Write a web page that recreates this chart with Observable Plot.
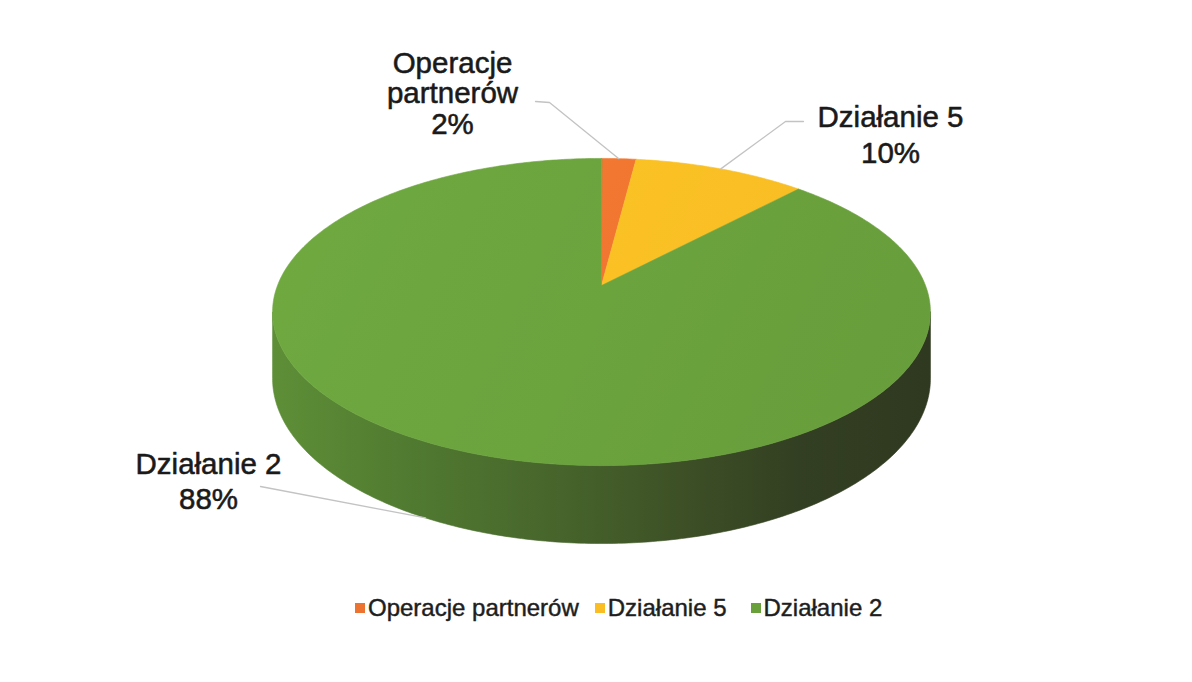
<!DOCTYPE html>
<html><head><meta charset="utf-8">
<script src="https://cdn.jsdelivr.net/npm/d3@7"></script>
<script src="https://cdn.jsdelivr.net/npm/@observablehq/plot@0.6"></script>
<style>
body{margin:0;background:#fff;font-family:"Liberation Sans",Arial,sans-serif;}
#chart{position:relative;width:1192px;height:682px;background:#fff;}
#legend{position:absolute;left:355px;top:596px;display:flex;align-items:center;font-size:24px;color:#1e1e1e;line-height:24px;white-space:nowrap;-webkit-text-stroke:0.45px #1e1e1e;}
.sw{width:10px;height:10px;display:inline-block;margin-right:3px;-webkit-text-stroke:0;}
</style></head><body><div id="chart"></div>
<script>
// ---- data ----
const categories = ["Operacje partnerów", "Działanie 5", "Działanie 2"];
const shares = [2, 10, 88];
const shareLabels = ["2%", "10%", "88%"];
const labelNames = ["Operacje\npartnerów", "Działanie 5", "Działanie 2"];
const colors = ["#ec7430", "#fabd24", "#69a03c"];

// ---- layout / style ----
const W = 1192, H = 590;
const geo = {cx: 601, cy: 285, a: 324, b: 149, k: 0.1726, depth: 64.5};
const labelLayout = [
  {x: 452, ys: [63, 93.5, 124.5], start: [[535, 101], [549, 102]], down: 0, shift: 0},
  {x: 890, ys: [117.5, 153.5], start: [[803, 121], [785, 121]], down: 0, shift: 0},
  {x: 208, ys: [463.6, 499.3], start: [[260, 486]], down: 1, shift: 0.016}
];
const legendGap = [16, 24, 0];
const sideStops = [
  ["#b85a22", "#a14d1c", "#8a421a", "#733716", "#5e2d12"],
  ["#c99a1c", "#b08717", "#977313", "#7d600f", "#664e0c"],
  ["#5e8f37", "#517b31", "#46632b", "#3d5026", "#333f22", "#2f3920"]
];
const sideOffsets = [[0, 0.25, 0.5, 0.75, 1], [0, 0.25, 0.5, 0.75, 1], [0, 0.2, 0.45, 0.62, 0.8, 1]];

function proj(frac, down = 0) {
  const t = frac * 2 * Math.PI;
  const X = Math.sin(t), Y = Math.cos(t);
  const s = 1 / (1 + geo.k * Y);
  return {x: geo.cx + geo.a * X * s, y: geo.cy - geo.b * Y * s + down * geo.depth * s};
}
function arcPts(f0, f1, down) {
  const n = Math.max(2, Math.ceil((f1 - f0) * 500));
  return d3.range(n + 1).map(j => proj(f0 + (f1 - f0) * j / n, down));
}

const total = d3.sum(shares);
let cum = 0;
const slices = shares.map((v, i) => {
  const f0 = cum / total; cum += v;
  return {i, cat: categories[i], f0, f1: cum / total};
});

const tops = slices.map(s => ({i: s.i, pts: [{x: geo.cx, y: geo.cy}, ...arcPts(s.f0, s.f1, 0)]}));
const fa = Math.acos(-geo.k) / (2 * Math.PI), fb = 1 - fa;
const sides = slices.map(s => {
  const lo = Math.max(s.f0, fa), hi = Math.min(s.f1, fb);
  if (lo >= hi) return null;
  return {i: s.i, pts: [...arcPts(lo, hi, 0), ...arcPts(lo, hi, 1).reverse()]};
}).filter(Boolean);

const labelLines = [];
slices.forEach((s, i) => {
  const lines = labelNames[i].split("\n").concat([shareLabels[i]]);
  lines.forEach((t, j) => labelLines.push({x: labelLayout[i].x, y: labelLayout[i].ys[j], t}));
});
const leaders = slices.map((s, i) => {
  const L = labelLayout[i];
  const end = proj((s.f0 + s.f1) / 2 + L.shift, L.down);
  return [...L.start.map(p => ({x: p[0], y: p[1]})), end];
});

const marks = [];
sides.forEach(s => marks.push(Plot.line(s.pts, {x: "x", y: "y", curve: "linear-closed",
  fill: `url(#side${s.i})`, stroke: `url(#side${s.i})`, strokeWidth: 0.6})));
tops.forEach(s => marks.push(Plot.line(s.pts, {x: "x", y: "y", curve: "linear-closed",
  fill: `url(#top${s.i})`, stroke: `url(#top${s.i})`, strokeWidth: 0.6})));
leaders.forEach(l => marks.push(Plot.line(l, {x: "x", y: "y", stroke: "#c3c3c3", strokeWidth: 1.3})));
marks.push(Plot.text(labelLines, {x: "x", y: "y", text: "t", fontSize: 29.5, fill: "#1a1a1a",
  stroke: "#1a1a1a", strokeWidth: 0.55, textAnchor: "middle",
  fontFamily: '"Liberation Sans", Arial, sans-serif'}));

const svg = Plot.plot({
  width: W, height: H, margin: 0,
  x: {domain: [0, W], range: [0, W], axis: null},
  y: {domain: [0, H], range: [0, H], axis: null},
  style: {background: "#fff", fontFamily: '"Liberation Sans", Arial, sans-serif'},
  marks
});

const shade = (c, k) => d3.color(c).darker(k).formatHex();
const bright = (c, k) => d3.color(c).brighter(k).formatHex();
let defs = "";
colors.forEach((c, i) => {
  defs += `<linearGradient id="top${i}" gradientUnits="userSpaceOnUse" x1="300" y1="160" x2="900" y2="470">
    <stop offset="0" stop-color="${bright(c, 0.16)}"/><stop offset="1" stop-color="${shade(c, 0.06)}"/></linearGradient>`;
  defs += `<linearGradient id="side${i}" gradientUnits="userSpaceOnUse" x1="272" y1="0" x2="930" y2="0">` +
    sideStops[i].map((col, j) => `<stop offset="${sideOffsets[i][j]}" stop-color="${col}"/>`).join("") +
    `</linearGradient>`;
});
d3.select(svg).insert("defs", ":first-child").html(defs);

const chart = document.getElementById("chart");
chart.appendChild(svg);

const legend = d3.select(chart).append("div").attr("id", "legend");
categories.forEach((c, i) => {
  const item = legend.append("span").style("display", "flex").style("align-items", "center")
    .style("margin-right", legendGap[i] + "px");
  item.append("span").attr("class", "sw").style("background", colors[i]);
  item.append("span").text(c);
});
</script></body></html>
